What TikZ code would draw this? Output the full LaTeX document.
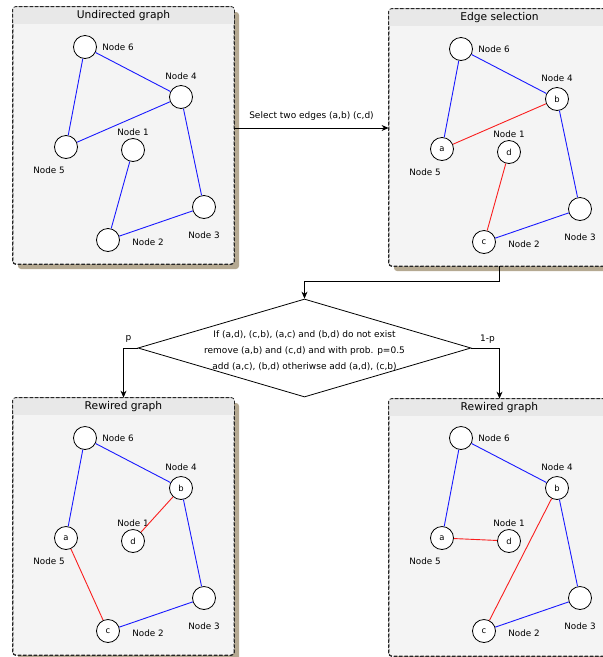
\documentclass[tikz,border=0pt]{standalone}
\usepackage{fontspec}
\setmainfont{DejaVu Sans}
\usetikzlibrary{shapes.geometric,shadows,arrows.meta}

\definecolor{panelbg}{RGB}{244,244,244}
\definecolor{titlebg}{RGB}{232,232,232}
\definecolor{shadowtan}{RGB}{181,169,146}
\definecolor{edgeblue}{RGB}{25,25,255}
\definecolor{edgered}{RGB}{250,30,30}

\tikzset{
  x=1pt, y=-1pt,
  panelborder/.style={draw=black!85, line width=0.8pt, dash pattern=on 3.5pt off 1.8pt, rounded corners=3pt},
  panel/.style={panelborder, fill=panelbg, minimum width=221pt, minimum height=257pt, inner sep=0pt,
    drop shadow={shadow xshift=5pt, shadow yshift=-5pt, fill=shadowtan, opacity=1}},
  paneltitle/.style={font=\fontsize{10.7}{12}\selectfont, inner sep=0pt},
  vertex/.style={circle, draw, line width=0.8pt, fill=white, minimum size=23pt, inner sep=0pt,
    font=\fontsize{8.4}{9}\selectfont},
  tag/.style={font=\fontsize{8.8}{10}\selectfont, inner sep=0pt},
  blueedge/.style={draw=edgeblue, line width=0.9pt},
  rededge/.style={draw=edgered, line width=0.9pt},
  flow/.style={draw, line width=0.8pt, -{Stealth[length=7pt,width=6pt]}},
  flowlabel/.style={font=\fontsize{9}{10}\selectfont, inner sep=0pt},
  decision/.style={diamond, draw, line width=0.8pt, fill=white, inner sep=0pt,
    minimum width=333pt, minimum height=98pt},
  ruletext/.style={font=\fontsize{9}{16}\selectfont, align=center, inner sep=0pt},
}

% grey title band, redrawn dashed border and caption of a panel
\newcommand\panelhead[2]{%
  \begin{scope}
    \clip[rounded corners=3pt] (#1.south west) rectangle (#1.north east);
    \fill[titlebg] (#1.north west) rectangle ([yshift=-17pt]#1.north east);
  \end{scope}
  \draw[panelborder] (#1.south west) rectangle (#1.north east);
  \node[paneltitle] (#1-title) at ([yshift=-8.5pt]#1.north) {#2};
}

% the six vertices with their captions; #1..#4 are the letters of nodes 5, 4, 2, 1
\newcommand\placenet[4]{%
  \node[vertex] (n6) at (85,47) {};
  \node[vertex] (n4) at (181,97) {#2};
  \node[vertex] (n5) at (66,147) {#1};
  \node[vertex] (n1) at (133,150) {#4};
  \node[vertex] (n3) at (204,207) {};
  \node[vertex] (n2) at (108,240) {#3};
  \node[tag] (t6) at (118,47) {Node 6};
  \node[tag] (t4) at (181,76) {Node 4};
  \node[tag] (t5) at (49,170) {Node 5};
  \node[tag] (t1) at (133,132) {Node 1};
  \node[tag] (t3) at (204,235) {Node 3};
  \node[tag] (t2) at (148,242) {Node 2};
}

\begin{document}
\begin{tikzpicture}
  \useasboundingbox (0,0) rectangle (603,657);
  \clip (0,0) rectangle (603,657);

  % panels
  \node[panel] (p1) at (123.5,135.5) {};
  \node[panel] (p2) at (499.5,137.5) {};
  \node[panel] (p3) at (123.5,526.5) {};
  \node[panel] (p4) at (499.5,527.5) {};
  \panelhead{p1}{Undirected graph}
  \panelhead{p2}{Edge selection}
  \panelhead{p3}{Rewired graph}
  \panelhead{p4}{Rewired graph}

  % original graph
  \begin{scope}[name prefix=A-]
    \placenet{}{}{}{}
    \draw[blueedge] (n6) -- (n4);
    \draw[blueedge] (n6) -- (n5);
    \draw[blueedge] (n5) -- (n4);
    \draw[blueedge] (n4) -- (n3);
    \draw[blueedge] (n3) -- (n2);
    \draw[blueedge] (n2) -- (n1);
  \end{scope}

  % two selected edges
  \begin{scope}[shift={(376,2)}, name prefix=B-]
    \placenet{a}{b}{c}{d}
    \draw[blueedge] (n6) -- (n4);
    \draw[blueedge] (n6) -- (n5);
    \draw[rededge]  (n5) -- (n4);
    \draw[blueedge] (n4) -- (n3);
    \draw[blueedge] (n3) -- (n2);
    \draw[rededge]  (n2) -- (n1);
  \end{scope}

  % rewired with (a,c), (b,d)
  \begin{scope}[shift={(0,391)}, name prefix=C-]
    \placenet{a}{b}{c}{d}
    \draw[blueedge] (n6) -- (n4);
    \draw[blueedge] (n6) -- (n5);
    \draw[rededge]  (n5) -- (n2);
    \draw[blueedge] (n4) -- (n3);
    \draw[blueedge] (n3) -- (n2);
    \draw[rededge]  (n4) -- (n1);
  \end{scope}

  % rewired with (a,d), (c,b)
  \begin{scope}[shift={(376,391)}, name prefix=D-]
    \placenet{a}{b}{c}{d}
    \draw[blueedge] (n6) -- (n4);
    \draw[blueedge] (n6) -- (n5);
    \draw[rededge]  (n5) -- (n1);
    \draw[blueedge] (n4) -- (n3);
    \draw[blueedge] (n3) -- (n2);
    \draw[rededge]  (n2) -- (n4);
  \end{scope}

  % flow between the panels
  \coordinate (arrowrow) at (0,128);
  \draw[flow] (p1.east |- arrowrow) -- (p2.west |- arrowrow)
    node[flowlabel, midway, above=7pt] (select) {Select two edges (a,b) (c,d)};

  \node[decision] (dec) at (304.5,348) {};
  \node[ruletext] (rule) at (304.5,350.5)
    {If (a,d), (c,b), (a,c) and (b,d) do not exist\\
     remove (a,b) and (c,d) and with prob. p=0.5\\
     add (a,c), (b,d) otheriwse add (a,d), (c,b)};

  \draw[flow] (p2.south) -- ++(0,15) -| (dec.north);
  \draw[flow] (dec.west) -| (p3.north);
  \draw[flow] (dec.east) -| (p4.north);
  \node[flowlabel] (plabel) at ([xshift=-9pt, yshift=9pt]dec.west) {p};
  \node[flowlabel] (qlabel) at ([xshift=16pt, yshift=9pt]dec.east) {1-p};
\end{tikzpicture}
\end{document}
